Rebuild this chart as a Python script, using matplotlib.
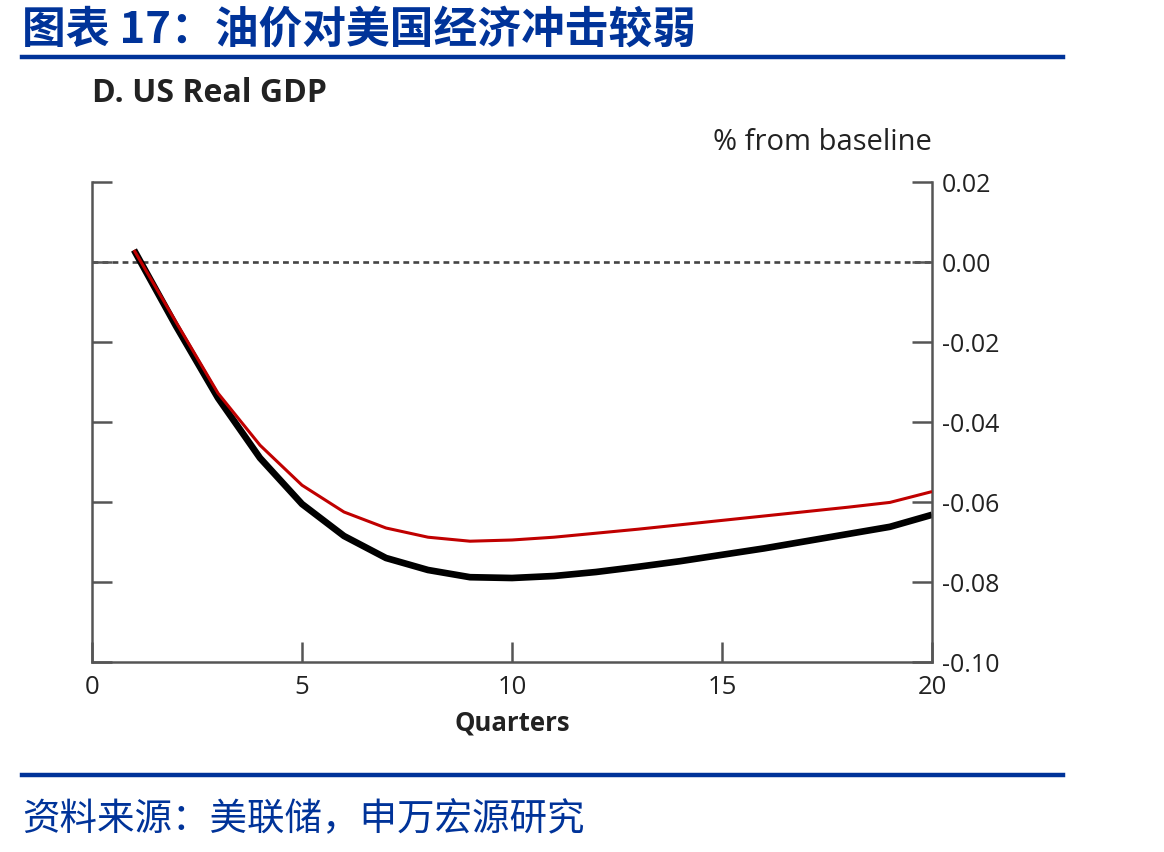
import matplotlib
matplotlib.use("Agg")
import matplotlib.pyplot as plt
from matplotlib.lines import Line2D

plt.rcParams['font.family'] = ['Open Sans', 'DejaVu Sans']

quarters = list(range(1, 21))
black_series = [0.003, -0.016, -0.034, -0.049, -0.0605, -0.0685, -0.074, -0.077, -0.0788, -0.079,
                -0.0785, -0.0775, -0.0762, -0.0748, -0.0732, -0.0716, -0.0698, -0.068, -0.0662, -0.0632]
red_series = [0.003, -0.015, -0.0328, -0.0458, -0.0558, -0.0625, -0.0665, -0.0688, -0.0698, -0.0695,
              -0.0688, -0.0678, -0.0668, -0.0657, -0.0646, -0.0635, -0.0624, -0.0613, -0.0601, -0.0574]
xticks = [0, 5, 10, 15, 20]
yticks = [0.02, 0.00, -0.02, -0.04, -0.06, -0.08, -0.10]
ytick_labels = ["0.02", "0.00", "-0.02", "-0.04", "-0.06", "-0.08", "-0.10"]

title_cn = "图表 17：油价对美国经济冲击较弱"
source_cn = "资料来源：美联储，申万宏源研究"
subtitle = "D. US Real GDP"
unit_label = "% from baseline"
xlabel = "Quarters"

W, H = 1164, 852
fig = plt.figure(figsize=(W / 100, H / 100), dpi=100)
blue = "#003399"
cjk = ['Noto Sans CJK SC', 'DejaVu Sans']
txt = '#222222'

# header
fig.text(22 / W, 1 - 30 / H, title_cn, fontsize=31.5, fontweight='bold', color=blue,
         family=cjk, va='center', ha='left')
fig.add_artist(Line2D([22 / W, 1063 / W], [1 - 57 / H, 1 - 57 / H], color=blue, lw=3.2))
fig.add_artist(Line2D([22 / W, 1063 / W], [1 - 775 / H, 1 - 775 / H], color=blue, lw=3.2))
fig.text(22 / W, 1 - 820 / H, source_cn, fontsize=27, color=blue, family=cjk,
         va='center', ha='left')

# axes: x 0..20 -> px 92..932, y 0.02..-0.10 -> px 182..662
ax = fig.add_axes([92 / W, 1 - 662 / H, (932 - 92) / W, (662 - 182) / H])
ax.set_xlim(0, 20)
ax.set_ylim(-0.10, 0.02)

ax.axhline(0, color='#444444', lw=1.9, ls=(0, (2.2, 1.6)), zorder=1)
ax.plot(quarters, black_series, color='black', lw=4.8, solid_capstyle='butt',
        solid_joinstyle='round', zorder=2)
ax.plot(quarters, red_series, color='#C00000', lw=2.2, solid_capstyle='butt',
        solid_joinstyle='round', zorder=3)

spine_c = '#555555'
for s in ['left', 'right', 'bottom']:
    ax.spines[s].set_color(spine_c)
    ax.spines[s].set_linewidth(1.8)
ax.spines['top'].set_visible(False)

ax.set_xticks(xticks)
ax.set_xticklabels([str(v) for v in xticks])
ax.set_yticks(yticks)
ax.set_yticklabels(ytick_labels)
ax.tick_params(axis='x', direction='in', length=14.5, width=1.8, color=spine_c,
               labelsize=18.5, labelcolor=txt, pad=9)
ax.tick_params(axis='y', direction='in', length=14.5, width=1.8, color=spine_c,
               left=True, right=True, labelleft=False, labelright=True,
               labelsize=18, labelcolor=txt, pad=7)

fig.text(92 / W, 1 - 93 / H, subtitle, fontsize=23, fontweight='bold', color=txt,
         va='center', ha='left')
fig.text(932 / W, 1 - 143 / H, unit_label, fontsize=21, color=txt,
         va='center', ha='right')
fig.text(512 / W, 1 - 723 / H, xlabel, fontsize=18.5, fontweight='bold', color=txt,
         va='center', ha='center')

fig.savefig("out.png", dpi=100)
